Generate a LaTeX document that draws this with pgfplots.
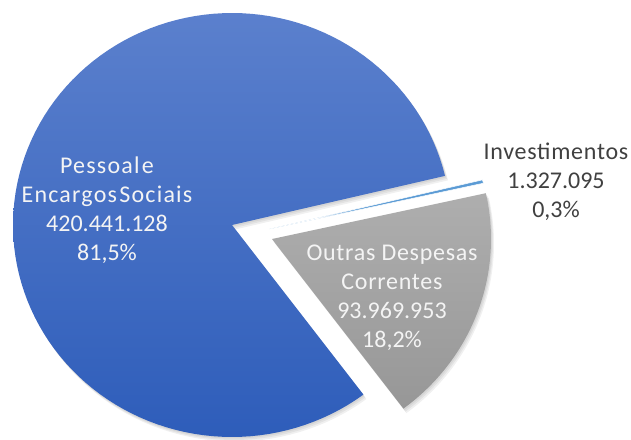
\documentclass[border=0pt]{standalone}
\usepackage{pgfplots}
\pgfplotsset{compat=1.18}
\usepackage{pgfplotstable}
\usepackage{fontspec}
\setmainfont{Carlito}
\newfontfamily\wide[LetterSpace=3]{Carlito}
\newfontfamily\wider[LetterSpace=5]{Carlito}
\definecolor{blueTop}{HTML}{5B80CD}
\definecolor{blueBot}{HTML}{2E5DBA}
\definecolor{grayTop}{HTML}{AEAEAE}
\definecolor{grayBot}{HTML}{979797}
\definecolor{invBlue}{HTML}{5B9BD5}
\definecolor{lbl}{HTML}{404040}
\definecolor{inlbl}{HTML}{F4F4F4}

\pgfplotstableread{
label value
Pessoal 420441128
Outras 93969953
Investimentos 1327095
}\piedata
\pgfplotstablegetelem{0}{value}\of\piedata \let\vP\pgfplotsretval
\pgfplotstablegetelem{1}{value}\of\piedata \let\vO\pgfplotsretval
\pgfplotstablegetelem{2}{value}\of\piedata \let\vI\pgfplotsretval
\edef\tot{\fpeval{\vP+\vO+\vI}}
\def\aS{13.4}
\edef\aI{\fpeval{round(\aS - 360*\vI/\tot,4)}}
\edef\aO{\fpeval{round(\aI - 360*\vO/\tot,4)}}
\edef\aP{\fpeval{round(\aS + 360*\vP/\tot,4)}}

% sector: cx, cy, from, to, style
\newcommand\sector[5]{%
  \addplot[#5, domain=#3:#4, samples=120, variable=\t]
    ({#1+219*cos(\t)},{#2+212*sin(\t)}) -- (axis cs:#1,#2) -- cycle;}

\begin{document}
\begin{tikzpicture}
\begin{axis}[
  width=631bp, height=440bp, scale only axis,
  xmin=0, xmax=631, ymin=0, ymax=440,
  hide axis, clip=false,
]
% soft shadows
\sector{233}{213.5}{\aS}{\aP}{fill=black, draw=none, opacity=0.06}
\sector{234}{212}{\aS}{\aP}{fill=black, draw=none, opacity=0.06}
\sector{235}{210.5}{\aS}{\aP}{fill=black, draw=none, opacity=0.06}
\sector{273}{199.5}{\aO}{\aI}{fill=black, draw=none, opacity=0.06}
\sector{274}{198}{\aO}{\aI}{fill=black, draw=none, opacity=0.06}
\sector{275}{196.5}{\aO}{\aI}{fill=black, draw=none, opacity=0.06}
% slices
\sector{232}{215}{\aS}{\aP}{draw=none, top color=blueTop, bottom color=blueBot}
\sector{272}{201}{\aO}{\aI}{draw=none, top color=grayTop, bottom color=grayBot}
\sector{269.5}{211}{\aI}{\aS}{draw=white, line width=0.5bp, fill=invBlue}
% labels
\node[align=center, inner sep=0pt, text=inlbl, font=\fontsize{24bp}{29bp}\selectfont]
  at (axis cs:107,230) {{\wider Pessoal\hspace{0.1em}e}\\{\wider Encargos\hspace{0.1em}Sociais}\\420.441.128\\81,5\%};
\node[align=center, inner sep=0pt, text=inlbl, font=\fontsize{24bp}{29bp}\selectfont]
  at (axis cs:392,142) {{\wide Outras Despesas}\\{\wide Correntes}\\93.969.953\\18,2\%};
\node[align=center, inner sep=0pt, text=lbl, font=\fontsize{24bp}{29bp}\selectfont]
  at (axis cs:556,258) {{\wide Investimentos}\\1.327.095\\0,3\%};
\end{axis}
\pgfresetboundingbox
\useasboundingbox (0,0) rectangle (631bp,440bp);
\end{tikzpicture}
\end{document}
